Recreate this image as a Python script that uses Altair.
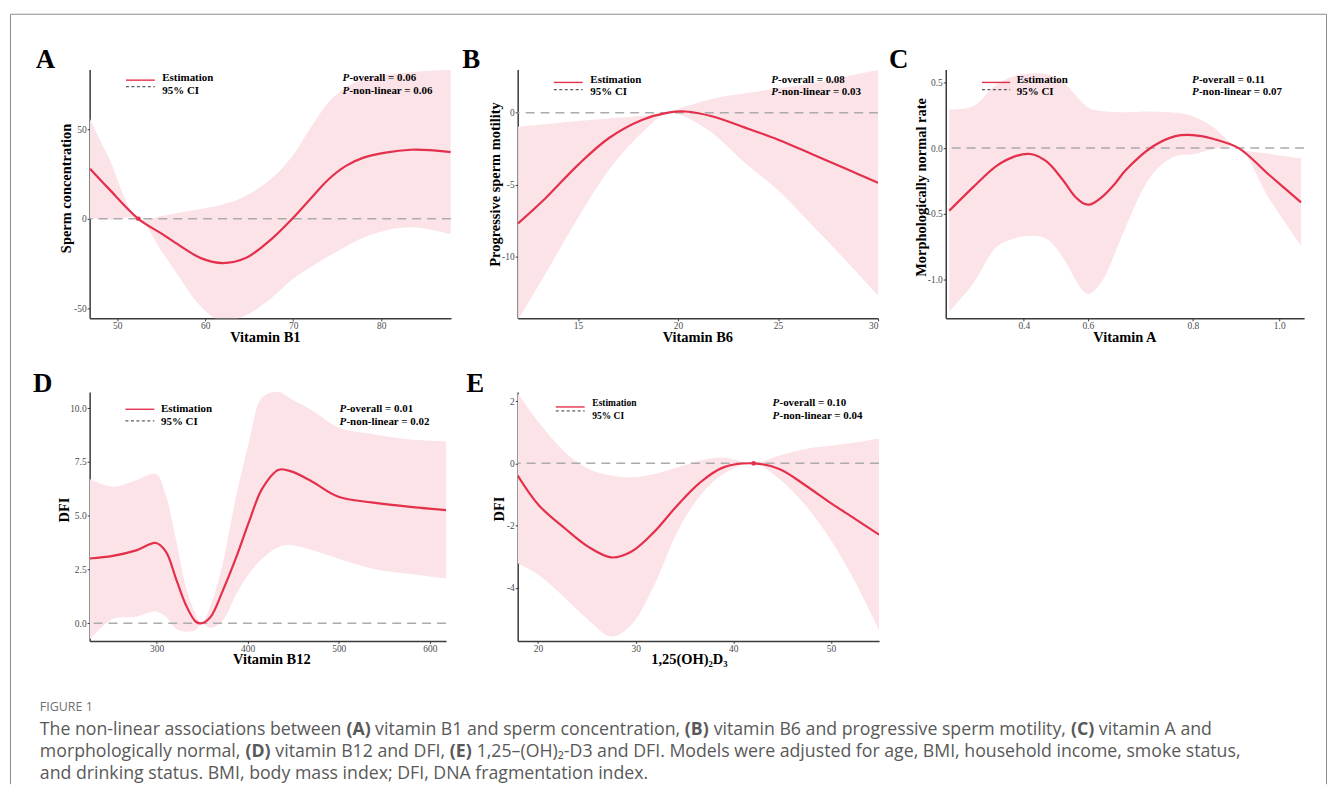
import altair as alt
import pandas as pd

# ---------------- data ----------------
# (A) Vitamin B1 vs sperm concentration
A_x = [46.9, 49.0, 52.4, 55.0, 57.1, 59.5, 62.0, 64.6, 67.5, 69.9, 72.0, 74.0, 76.0, 78.0, 80.5, 83.4, 85.5, 87.9]
A_est = [28.0, 17.0, 0.0, -8.2, -15.0, -22.0, -24.8, -22.0, -11.5, 0.0, 11.3, 22.0, 29.6, 34.2, 37.0, 38.6, 38.4, 37.3]
A_hi = [55.8, 34.5, 0.0, 1.5, 3.5, 5.5, 8.0, 12.8, 22.4, 35.0, 51.0, 65.0, 73.5, 78.0, 80.5, 82.0, 82.8, 83.3]
A_lo = [0.4, -0.6, 0.0, -17.9, -33.0, -49.0, -57.5, -54.0, -44.4, -34.0, -27.0, -21.0, -15.5, -10.5, -6.5, -4.8, -6.0, -8.7]
A_ref = [52.4]

# (B) Vitamin B6 vs progressive sperm motility
B_x = [12.0, 13.37, 15.0, 16.53, 18.19, 19.5, 20.36, 21.69, 23.35, 25.0, 26.68, 28.34, 30.0]
B_est = [-7.7, -5.95, -3.63, -1.78, -0.51, 0.0, 0.08, -0.25, -1.04, -1.88, -2.87, -3.87, -4.88]
B_hi = [-0.97, -0.8, -0.58, -0.4, -0.21, 0.0, 0.42, 0.95, 1.34, 1.69, 2.03, 2.5, 2.96]
B_lo = [-14.4, -11.2, -7.3, -4.0, -1.4, 0.0, -0.3, -1.4, -3.5, -5.4, -7.8, -10.2, -12.7]

# (C) Vitamin A vs morphologically normal rate
C_x = [0.167, 0.241, 0.314, 0.37, 0.42, 0.47, 0.521, 0.56, 0.589, 0.605, 0.628, 0.65, 0.672, 0.723, 0.767, 0.8, 0.844, 0.906, 0.975, 1.05]
C_est = [-0.479, -0.30, -0.137, -0.065, -0.045, -0.10, -0.24, -0.37, -0.425, -0.43, -0.37, -0.28, -0.17, 0.01, 0.091, 0.099, 0.073, 0.0, -0.2, -0.415]
C_hi = [0.294, 0.319, 0.484, 0.55, 0.57, 0.565, 0.509, 0.41, 0.332, 0.30, 0.281, 0.276, 0.274, 0.28, 0.269, 0.243, 0.167, 0.0, -0.043, -0.078]
C_lo = [-1.25, -1.036, -0.757, -0.69, -0.669, -0.69, -0.83, -1.0, -1.1, -1.11, -1.01, -0.82, -0.605, -0.2, -0.061, -0.048, -0.01, 0.0, -0.377, -0.745]

# (D) Vitamin B12 vs DFI
D_x = [226.4, 251.9, 277.5, 299.3, 310.3, 321.2, 332.1, 343.1, 349.6, 359.5, 372.1, 386.8, 401.3, 415.8, 434.1, 448.6, 470.5, 499.7, 536.1, 576.2, 618.0]
D_est = [3.01, 3.13, 3.39, 3.73, 3.32, 2.08, 0.85, 0.07, 0.0, 0.31, 1.46, 3.0, 4.7, 6.25, 7.14, 7.05, 6.59, 5.88, 5.62, 5.42, 5.26]
D_hi = [6.71, 6.35, 6.65, 6.94, 5.9, 3.9, 1.7, 0.4, 0.0, 0.85, 2.7, 5.8, 8.4, 10.5, 10.75, 10.4, 9.9, 9.1, 8.8, 8.55, 8.45]
D_lo = [-0.77, 0.2, 0.3, 0.55, 0.3, -0.25, -0.39, -0.3, 0.0, -0.22, 0.1, 1.3, 2.3, 3.0, 3.55, 3.63, 3.4, 3.0, 2.55, 2.3, 2.08]

# (E) 1,25(OH)2D3 vs DFI
E_x = [17.92, 20.1, 22.8, 25.16, 27.52, 29.54, 31.9, 34.26, 36.62, 38.98, 42.08, 44.71, 47.4, 50.1, 52.46, 54.92]
E_est = [-0.39, -1.35, -2.1, -2.68, -3.02, -2.84, -2.2, -1.35, -0.61, -0.13, 0.0, -0.18, -0.71, -1.3, -1.78, -2.29]
E_hi = [2.27, 1.31, 0.35, -0.18, -0.39, -0.45, -0.34, -0.13, 0.09, 0.19, 0.0, 0.25, 0.46, 0.57, 0.67, 0.8]
E_lo = [-3.21, -3.59, -4.33, -5.03, -5.56, -5.19, -3.91, -2.2, -1.03, -0.34, 0.0, -0.5, -1.35, -2.52, -3.8, -5.35]
E_ref = [42.08]

P_OVERALL = ["0.06", "0.08", "0.11", "0.01", "0.10"]
P_NONLIN = ["0.06", "0.03", "0.07", "0.02", "0.04"]

CAPTION_1 = ["The non-linear associations between", "(A)", "vitamin B1 and sperm concentration,", "(B)",
             "vitamin B6 and progressive sperm motility,", "(C)", "vitamin A and"]
CAPTION_2 = ["morphologically normal,", "(D)", "vitamin B12 and DFI,", "(E)",
             "1,25\u2013(OH)\u2082-D3 and DFI. Models were adjusted for age, BMI, household income, smoke status,"]
CAPTION_3 = ["and drinking status. BMI, body mass index; DFI, DNA fragmentation index."]

# ---------------- styling ----------------
RED = "#E5304B"
PINK = "#FBE3E8"
SERIF = "Liberation Serif"
SANS = "Open Sans"
ONE = pd.DataFrame({"k": [0]})

# approximate Open Sans advance widths (units per em = 2048) used to flow mixed-weight caption text
OS_W = {' ': 532, 'a': 1139, 'b': 1255, 'c': 975, 'd': 1255, 'e': 1149, 'f': 694, 'g': 1122, 'h': 1257,
        'i': 518, 'j': 518, 'k': 1075, 'l': 518, 'm': 1905, 'n': 1257, 'o': 1237, 'p': 1255, 'q': 1255,
        'r': 836, 's': 977, 't': 723, 'u': 1257, 'v': 1026, 'w': 1593, 'x': 1073, 'y': 1028, 'z': 977,
        'A': 1296, 'B': 1327, 'C': 1292, 'D': 1493, 'E': 1139, 'F': 1057, 'H': 1511, 'I': 571, 'M': 1849,
        'N': 1544, 'O': 1595, 'T': 1133, ',': 502, '.': 545, ';': 545, '-': 659, '(': 606, ')': 606,
        '\u2013': 1024, '\u2082': 800}
for d in "0123456789":
    OS_W[d] = 1171
OS_BOLD = {'(': 694, ')': 694, 'A': 1384, 'B': 1407, 'C': 1296, 'D': 1542, 'E': 1186}

MINUS_FIX = "replace(datum.label, '\u2212', '-')"


def text_width(s, size, bold=False):
    tot = 0.0
    for ch in s:
        w = OS_W.get(ch, 1100)
        if bold:
            w = OS_BOLD.get(ch, w * 1.06)
        tot += w
    return tot / 2048.0 * size


def txt(s, x, y, size, weight="bold", style="normal", color="black", font=SERIF, baseline="middle"):
    return alt.Chart(ONE).mark_text(text=s, font=font, fontSize=size, fontWeight=weight, fontStyle=style,
                                    color=color, align="left", baseline=baseline).encode(
        x=alt.value(x), y=alt.value(y))


def rule(x, y, x2=None, y2=None, color="black", width=1.0, dash=None):
    enc = {"x": alt.value(x), "y": alt.value(y)}
    if x2 is not None:
        enc["x2"] = alt.value(x2)
    if y2 is not None:
        enc["y2"] = alt.value(y2)
    kw = {"color": color, "strokeWidth": width}
    if dash:
        kw["strokeDash"] = dash
    return alt.Chart(ONE).mark_rule(**kw).encode(**enc)


def flow(segs, x0, y, size, color):
    out = []
    x = x0
    for s in segs:
        bold = len(s) == 3 and s.startswith("(")
        out.append(txt(s, x, y, size, weight="bold" if bold else "normal", color=color, font=SANS))
        x += text_width(s, size, bold) + text_width(" ", size)
    return out


def panel(p):
    df = pd.DataFrame({"x": p["x"], "est": p["est"], "lo": p["lo"], "hi": p["hi"]})
    skw = {"domain": p["xdom"], "nice": False, "zero": False}
    if "xrange" in p:
        skw["range"] = p["xrange"]
    xs = alt.Scale(**skw)
    ys = alt.Scale(domain=p["ydom"], nice=False, zero=False)
    xax = alt.Axis(title=p["xtitle"], values=p["xvals"], format=p["xfmt"], titleY=23, titleX=p["ttx"])
    yax = alt.Axis(title=p["ytitle"], values=p["yvals"], format=p["yfmt"], titleX=p["tx"], titleY=p["ty"],
                   labelExpr=MINUS_FIX)
    X = alt.X("x:Q", scale=xs, axis=xax)
    layers = [
        alt.Chart(df).mark_area(color=PINK, opacity=1, interpolate="catmull-rom", clip=True).encode(
            x=X, y=alt.Y("lo:Q", scale=ys, axis=yax), y2="hi:Q"),
        alt.Chart(ONE).mark_rule(color="#ABABAB", strokeWidth=1.5, strokeDash=[9, 6]).encode(y=alt.datum(0)),
        alt.Chart(df).mark_line(color=RED, strokeWidth=2.2, interpolate="catmull-rom", clip=True).encode(
            x=X, y=alt.Y("est:Q", scale=ys, axis=yax)),
    ]
    if "ref" in p:
        rdf = pd.DataFrame({"x": p["ref"], "est": [0.0] * len(p["ref"])})
        layers.append(alt.Chart(rdf).mark_point(filled=True, color=RED, opacity=1, size=22).encode(
            x=X, y=alt.Y("est:Q", scale=ys, axis=yax)))
    lx0, lx1, ly1, ly2 = p["leg_line"]
    tx, ty1, ty2, tsize = p["leg_text"]
    px, py1, py2 = p["pv"]
    layers += [
        rule(lx0, ly1, x2=lx1, color=RED, width=1.4),
        rule(lx0, ly2, x2=lx1, color="#333333", width=1.0, dash=[3, 2.5]),
        txt("Estimation", tx, ty1, tsize),
        txt("95% CI", tx, ty2, tsize),
        txt("P", px, py1, 11, style="italic"),
        txt("-overall = " + p["po"], px + 7, py1, 11),
        txt("P", px, py2, 11, style="italic"),
        txt("-non-linear = " + p["pn"], px + 7, py2, 11),
        txt(p["letter"], p["lxy"][0], p["lxy"][1], 27, baseline="alphabetic"),
    ]
    layers += p.get("extra", [])
    return alt.layer(*layers).properties(width=p["w"], height=p["h"])


# border of the figure box (drawn from panel A's frame)
border = [
    rule(-79.5, -55.5, x2=1242.5, color="#8c8c8c", width=1),
    rule(-79.5, -55.5, y2=718, color="#8c8c8c", width=1),
    rule(1242.5, -55.5, y2=718, color="#8c8c8c", width=1),
]

# caption (drawn from panel D's frame, origin at its plot top-left)
CAP_C = "#595959"
FS = 17.8
cap = [txt("FIGURE 1", -50, 316, 12.5, weight="normal", color="#707070", font=SANS)]
cap += flow(CAPTION_1, -50, 340, FS, CAP_C)
cap += flow(CAPTION_2, -50, 362, FS, CAP_C)
cap += flow(CAPTION_3, -50, 384, FS, CAP_C)

pA = dict(x=A_x, est=A_est, lo=A_lo, hi=A_hi, ref=A_ref, w=363, h=250,
          xdom=[46.86, 87.94], ydom=[-55.7, 83.5], xvals=[50, 60, 70, 80], yvals=[-50, 0, 50],
          xfmt="d", yfmt="d", xtitle="Vitamin B1", ytitle="Sperm concentration", tx=-19, ty=119, ttx=176,
          leg_line=(36.5, 65.5, 10.7, 17.3), leg_text=(73, 9, 21.3, 11), pv=(254, 9, 21.3),
          po=P_OVERALL[0], pn=P_NONLIN[0], letter="A", lxy=(-54, -1), extra=border)
pB = dict(x=B_x, est=B_est, lo=B_lo, hi=B_hi, w=362, h=250,
          xdom=[11.98, 30.0], ydom=[-14.3, 3.0], xvals=[15, 20, 25, 30], yvals=[-10, -5, 0],
          xfmt="d", yfmt="d", xtitle="Vitamin B6", ytitle="Progressive sperm motility", tx=-18.5, ty=115, ttx=180.5,
          leg_line=(36.3, 65.3, 13, 20.3), leg_text=(73, 10.3, 23, 11), pv=(254.6, 10.3, 23),
          po=P_OVERALL[1], pn=P_NONLIN[1], letter="B", lxy=(-55.7, -1.5))
pC = dict(x=C_x, est=C_est, lo=C_lo, hi=C_hi, w=360, h=250,
          xdom=[0.156, 0.4, 0.6, 0.8, 1.0, 1.057], xrange=[0, 78.4, 142.7, 248.2, 335.0, 360],
          ydom=[-1.3, 0.6], xvals=[0.4, 0.6, 0.8, 1.0], yvals=[-1.0, -0.5, 0.0, 0.5],
          xfmt=".1f", yfmt=".1f", xtitle="Vitamin A", ytitle="Morphologically normal rate", tx=-20.5, ty=118,
          ttx=179.5,
          leg_line=(36.4, 64.7, 13, 20.3), leg_text=(71.4, 10.3, 23, 11), pv=(247.4, 10.3, 23),
          po=P_OVERALL[2], pn=P_NONLIN[2], letter="C", lxy=(-57, -2))
pD = dict(x=D_x, est=D_est, lo=D_lo, hi=D_hi, w=358, h=250,
          xdom=[226.4, 617.8], ydom=[-0.82, 10.75], xvals=[300, 400, 500, 600], yvals=[0, 2.5, 5, 7.5, 10],
          xfmt="d", yfmt=".1f", xtitle="Vitamin B12", ytitle="DFI", tx=-21.7, ty=118, ttx=182.5,
          leg_line=(36, 65, 17.3, 29), leg_text=(71.7, 16.7, 30, 11), pv=(251, 16.7, 30),
          po=P_OVERALL[3], pn=P_NONLIN[3], letter="D", lxy=(-57, 0), extra=cap)
pE = dict(x=E_x, est=E_est, lo=E_lo, hi=E_hi, ref=E_ref, w=363, h=250,
          xdom=[17.92, 54.92], ydom=[-5.7, 2.29], xvals=[20, 30, 40, 50], yvals=[-4, -2, 0, 2],
          xfmt="d", yfmt="d", xtitle="1,25(OH)\u2082D\u2083", ytitle="DFI", tx=-14.5, ty=117, ttx=172,
          leg_line=(38.3, 67.3, 15, 19), leg_text=(75, 11.3, 24, 9.5), pv=(256, 10.7, 24),
          po=P_OVERALL[4], pn=P_NONLIN[4], letter="E", lxy=(-51.7, 0))

chart = alt.concat(panel(pA), panel(pB), panel(pC), panel(pD), panel(pE),
                   columns=3, spacing={"row": 74, "column": 67}, bounds="flush", align="none").properties(
    padding={"left": 2, "top": 4, "right": 0, "bottom": 0}
).configure_view(stroke=None).configure_axis(
    grid=False, domainColor="#3a3a3a", domainWidth=1.5, tickColor="#3a3a3a", tickSize=2.5, tickWidth=1,
    labelFont=SERIF, labelFontSize=9.5, labelColor="#4d4d4d", labelPadding=1,
    titleFont=SERIF, titleFontSize=14.5, titleFontWeight="bold", titleColor="#000000"
).configure_axisY(titleAngle=270, titleAlign="center", titleBaseline="alphabetic"
).configure_axisX(titleAlign="center", titleBaseline="alphabetic", labelPadding=0)

chart.save("out.html", embed_options={"renderer": "svg", "actions": False})
